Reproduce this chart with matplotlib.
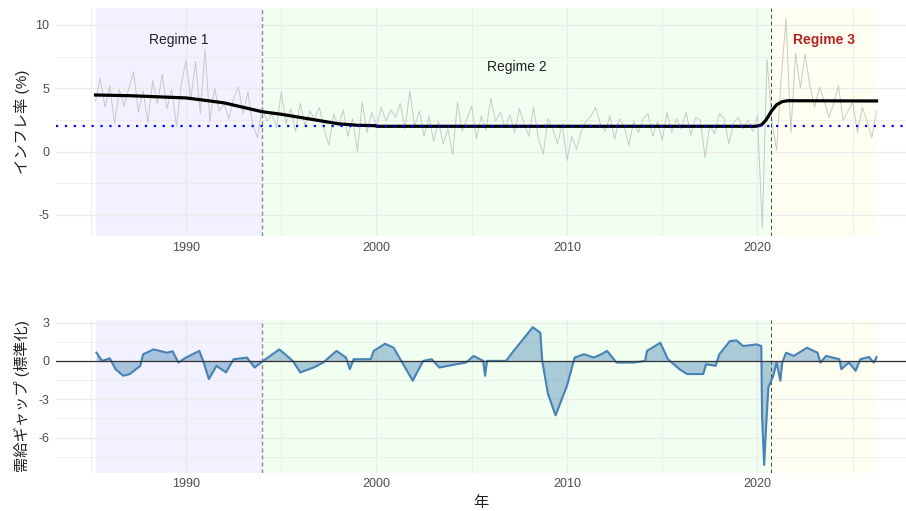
import numpy as np
import matplotlib
matplotlib.use("Agg")
import matplotlib.pyplot as plt

plt.rcParams['font.family'] = ['Liberation Sans', 'Noto Sans CJK JP', 'DejaVu Sans']
plt.rcParams['axes.unicode_minus'] = False

infl_start = 1985.25
inflation = [
    4.0, 5.8, 3.5,
    5.2, 2.2, 4.9, 3.6,
    5.0, 6.3, 3.1, 4.8,
    2.3, 5.6, 3.8, 6.1,
    3.4, 4.9, 2.0, 5.3,
    7.2, 4.1, 7.1, 3.0,
    8.1, 2.4, 5.0, 3.2,
    3.8, 2.6, 4.2, 5.1,
    3.0, 4.7, 2.2, 1.1,
    3.5, 2.4, 3.0, 1.9,
    4.7, 2.2, 3.4, 1.6,
    3.8, 2.0, 3.2, 2.6,
    3.5, 1.8, 0.5, 3.0,
    2.0, 3.3, 1.2, 2.6,
    0.0, 3.9, 1.5, 3.1,
    2.0, 3.5, 2.4, 3.3,
    2.7, 3.8, 1.8, 4.8,
    2.0, 3.2, 1.2, 2.8,
    0.8, 2.4, 0.6, 1.8,
    -0.25, 3.9, 1.6, 2.6,
    3.6, 1.0, 2.8, 1.7,
    4.2, 2.4, 3.1, 1.9,
    2.9, 1.5, 3.4, 2.2,
    1.2, 3.5, 1.0, -0.2,
    2.6, 1.8, 0.6, 2.2,
    -0.7, 1.2, 0.2, 1.6,
    2.4, 2.8, 3.5, 2.2,
    1.6, 2.8, 1.0, 2.6,
    2.0, 0.5, 2.4, 1.5,
    2.6, 3.0, 1.2, 2.4,
    0.9, 3.1, 1.5, 2.6,
    1.8, 3.1, 1.3, 2.7,
    2.5, -0.45, 2.1, 1.4,
    3.0, 2.6, 0.6, 2.3,
    2.7, 1.8, 2.5, 1.6,
    2.8, -6.0, 7.3, 2.5,
    0.1, 6.0, 10.5, 1.5,
    7.8, 5.0, 7.7, 5.2,
    3.5, 5.1, 4.0, 2.7,
    3.8, 5.2, 2.5, 3.2,
    3.9, 1.5, 3.5, 2.4,
    1.1, 3.2,
]
infl_years = infl_start + 0.25 * np.arange(len(inflation))

# regime trend (target inflation)
trend_years = [1985.25, 1987, 1989, 1990, 1991, 1992, 1993, 1994, 1995, 1996, 1997,
               1998, 1999, 1999.95, 2000, 2019.9, 2020.2, 2020.45, 2020.73, 2021.0,
               2021.3, 2021.6, 2026.25]
trend_vals = [4.47, 4.42, 4.3, 4.24, 4.05, 3.85, 3.5, 3.15, 2.95, 2.7, 2.45,
              2.2, 2.08, 2.05, 2.0, 2.0, 2.1, 2.5, 3.2, 3.7,
              3.95, 4.02, 4.0]

# demand gap (standardised)
gap_years = [1985.3, 1985.6, 1986.0, 1986.3, 1986.7, 1987.05, 1987.6, 1987.75, 1988.3,
             1989.0, 1989.3, 1989.6, 1990.0, 1990.7, 1990.9, 1991.2, 1991.6, 1992.1,
             1992.5, 1993.2, 1993.6, 1994.05, 1994.9, 1995.3, 1995.6, 1996.0, 1996.7,
             1997.2, 1997.9, 1998.4, 1998.6, 1998.8, 1999.7, 1999.85, 2000.45, 2000.9,
             2001.3, 2001.9, 2002.45, 2002.9, 2003.3, 2004.2, 2004.7, 2005.1, 2005.6,
             2005.7, 2005.8, 2006.8, 2007.2, 2007.9, 2008.2, 2008.6, 2008.7, 2009.0,
             2009.4, 2010.0, 2010.4, 2010.9, 2011.4, 2011.8, 2012.1, 2012.6, 2013.5,
             2014.1, 2014.2, 2014.9, 2015.3, 2015.9, 2016.3, 2017.15, 2017.3, 2017.8,
             2018.0, 2018.55, 2018.9, 2019.25, 2019.95, 2020.2, 2020.24, 2020.35,
             2020.45, 2020.57, 2020.83, 2021.0, 2021.2, 2021.3, 2021.5, 2021.9, 2022.6,
             2023.15, 2023.3, 2023.6, 2024.3, 2024.4, 2024.8, 2025.15, 2025.4, 2025.85,
             2026.1, 2026.25]
gap_vals = [0.64, 0.0, 0.2, -0.65, -1.16, -1.03, -0.39, 0.52, 0.9,
            0.64, 0.75, -0.13, 0.26, 0.78, 0.0, -1.42, -0.39, -0.9,
            0.13, 0.26, -0.52, 0.0, 0.9, 0.39, 0.0, -0.9, -0.52,
            -0.13, 0.78, 0.26, -0.65, 0.13, 0.13, 0.78, 1.34, 1.03,
            0.0, -1.55, 0.0, 0.13, -0.52, -0.26, -0.13, 0.39, 0.0,
            -1.16, 0.0, 0.0, 0.78, 2.07, 2.64, 2.2, 0.0, -2.58,
            -4.26, -1.94, 0.26, 0.52, 0.26, 0.52, 0.78, -0.13, -0.13,
            0.0, 0.78, 1.42, 0.13, -0.65, -1.03, -1.03, -0.26, -0.39,
            0.52, 1.55, 1.6, 1.16, 1.29, 1.16, -4.4, -8.14,
            -5.17, -2.07, -1.16, -0.13, -1.55, -0.13, 0.64, 0.39, 1.03,
            0.64, -0.13, 0.39, 0.13, -0.65, -0.13, -0.78, 0.13, 0.31,
            -0.13, 0.3]

regime_bounds = [1985.25, 1994.0, 2020.73, 2026.25]
regime_colors = ['#0000FF', '#00FF00', '#FFFF00']
regime_names = ['Regime 1', 'Regime 2', 'Regime 3']

W, H = 906, 511
fig = plt.figure(figsize=(W / 100, H / 100), dpi=100)
xl, xr = 56, 906
ax1 = fig.add_axes([xl / W, 1 - 236 / H, (xr - xl) / W, 228 / H])
ax2 = fig.add_axes([xl / W, 1 - 472.7 / H, (xr - xl) / W, 152.7 / H])

xlim = (1990 - (186 - xl) / 19.05, 1990 + (xr - 186) / 19.05)
grid_c = '#EBEBEB'
tick_c = '#4D4D4D'

for ax in (ax1, ax2):
    ax.set_xlim(*xlim)
    for s in ax.spines.values():
        s.set_visible(False)
    ax.set_xticks([1990, 2000, 2010, 2020])
    ax.set_xticks([1985, 1995, 2005, 2015, 2025], minor=True)
    ax.grid(True, which='major', color=grid_c, lw=1.0, zorder=0)
    ax.grid(True, which='minor', color=grid_c, lw=0.6, zorder=0)
    ax.set_axisbelow(True)
    ax.tick_params(which='both', length=0, labelsize=9, labelcolor=tick_c)
    ax.tick_params(axis='x', pad=4)
    ax.tick_params(axis='y', pad=5)
    for i in range(3):
        ax.axvspan(regime_bounds[i], regime_bounds[i + 1], color=regime_colors[i],
                   alpha=0.055, lw=0, zorder=0.5)
    ax.axvline(regime_bounds[1], color='#8C8C8C', lw=1.0, dashes=(3, 2), zorder=3)
    ax.axvline(regime_bounds[2], color='#444444', lw=0.7, dashes=(4, 3), zorder=3)

# top panel
ax1.set_ylim(-6.66, 11.34)
ax1.set_yticks([-5, 0, 5, 10])
ax1.set_yticks([-2.5, 2.5, 7.5], minor=True)
ax1.plot(infl_years, inflation, color='#C8C8C8', lw=0.7, zorder=2)
ax1.axhline(2.0, color='blue', lw=1.6, dashes=(1, 3), zorder=4)
ax1.plot(trend_years, trend_vals, color='black', lw=2.3, zorder=3.5)
ax1.set_ylabel('インフレ率 (%)', fontsize=11, color='#222222')
ax1.yaxis.set_label_coords(-0.03, 0.5)

label_y = [8.8, 6.7, 8.8]
for i in range(3):
    cx = (regime_bounds[i] + regime_bounds[i + 1]) / 2
    if i == 2:
        ax1.text(cx, label_y[i], regime_names[i], ha='center', va='center', fontsize=10,
                 color='#B22222', fontweight='bold')
    else:
        ax1.text(cx, label_y[i], regime_names[i], ha='center', va='center', fontsize=10,
                 color='#222222')

# bottom panel
ax2.set_ylim(-8.75, 3.2)
ax2.set_yticks([-6, -3, 0, 3])
ax2.set_yticks([-7.5, -4.5, -1.5, 1.5], minor=True)
ax2.fill_between(gap_years, gap_vals, 0, color='#4682B4', alpha=0.42, lw=0,
                 interpolate=True, zorder=2)
ax2.plot(gap_years, gap_vals, color='#4682B4', lw=1.5, zorder=3)
ax2.axhline(0, color='#333333', lw=0.9, zorder=3.5)
ax2.set_ylabel('需給ギャップ (標準化)', fontsize=11, color='#222222')
ax2.yaxis.set_label_coords(-0.03, 0.5)
ax2.set_xlabel('年', fontsize=11, color='#222222', labelpad=4)

fig.savefig('out.png', dpi=100)
